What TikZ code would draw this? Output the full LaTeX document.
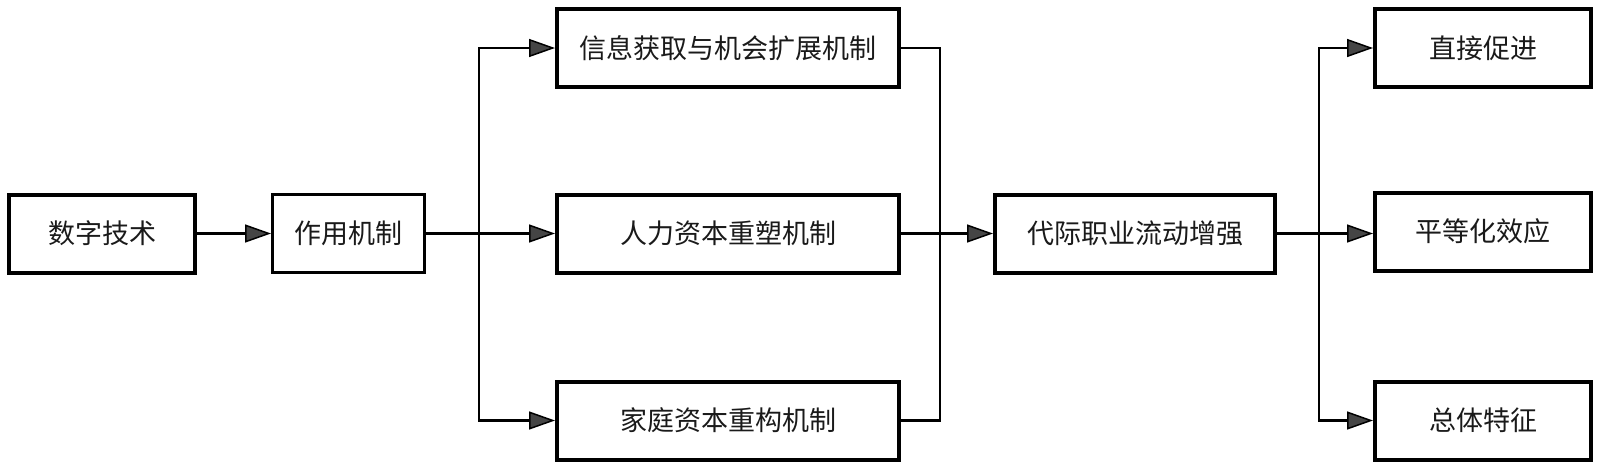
\documentclass[tikz,border=0pt]{standalone}
\usepackage{fontspec}
\newfontfamily\cjk{Noto Sans CJK SC}
\usetikzlibrary{arrows.meta}
\definecolor{arrowgray}{HTML}{454545}
\definecolor{txt}{HTML}{1A1A1A}
\begin{document}
\begin{tikzpicture}[x=1pt,y=-1pt,
  box/.style={draw=black, line width=4pt, rectangle, inner sep=0pt, minimum height=78pt,
    font=\cjk\fontsize{27}{32}\selectfont, text=txt},
  thinbox/.style={box, line width=3pt},
  conn/.style={line width=2.5pt, draw=black},
  arr/.style={conn, -{Triangle[length=26pt,width=18pt,fill=arrowgray,line width=1.5pt]}},
  arr2/.style={conn, {Triangle[length=26pt,width=18pt,fill=arrowgray,line width=1.5pt]}-{Triangle[length=26pt,width=18pt,fill=arrowgray,line width=1.5pt]}}
]
\useasboundingbox[fill=white] (0,0) rectangle (1600,466);
% nodes
\node[box, minimum width=186pt] (A) at (102,233.5) {数字技术};
\node[thinbox, minimum width=152pt] (B) at (348.5,233.5) {作用机制};
\node[box, minimum width=342pt] (C1) at (728,48) {信息获取与机会扩展机制};
\node[box, minimum width=342pt] (C2) at (728,233.5) {人力资本重塑机制};
\node[box, minimum width=342pt] (C3) at (728,420.5) {家庭资本重构机制};
\node[box, minimum width=280pt] (D) at (1135,233.5) {代际职业流动增强};
\node[box, minimum width=216pt] (E1) at (1483,48) {直接促进};
\node[box, minimum width=216pt] (E2) at (1483,231.5) {平等化效应};
\node[box, minimum width=216pt] (E3) at (1483,420.5) {总体特征};
% junctions
\coordinate (j1) at (479,233.5);
\coordinate (j2) at (940,233.5);
\coordinate (j3) at (1319,233.5);
% connectors
\draw[arr] (A) -- (B);
\draw[conn] (B) -- (j1);
\draw[arr2] (C1) -| (j1) |- (C3);
\draw[arr] (j1) -- (C2);
\draw[conn] (C1) -| (j2) |- (C3);
\draw[arr] (C2) -- (D);
\draw[conn] (D) -- (j3);
\draw[arr2] (E1) -| (j3) |- (E3);
\draw[arr] (j3) -- (E2.west |- j3);
\end{tikzpicture}
\end{document}
